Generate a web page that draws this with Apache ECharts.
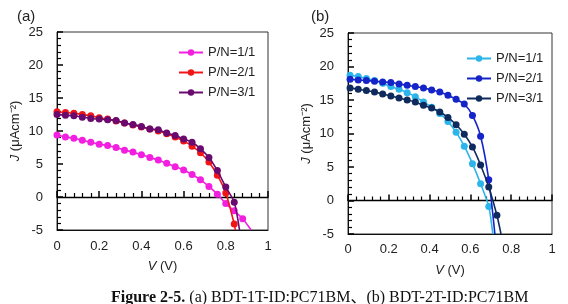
<!DOCTYPE html>
<html>
<head>
<meta charset="utf-8">
<script src="https://cdn.jsdelivr.net/npm/echarts@6/dist/echarts.min.js"></script>
<style>
  html, body { margin: 0; padding: 0; background: #fff; }
  #chart { width: 568px; height: 304px; }
</style>
</head>
<body>
<div id="chart"></div>
<script>
// panel (a): BDT-1T-ID:PC71BM
const voltA = [0, 0.04, 0.08, 0.12, 0.16, 0.2, 0.24, 0.28, 0.32, 0.36, 0.4, 0.44,
  0.48, 0.52, 0.56, 0.6, 0.64, 0.68, 0.72, 0.76, 0.8, 0.84, 0.88]
const pn11A = [9.4, 9.1, 8.9, 8.6, 8.3, 8.0, 7.8, 7.5, 7.1, 6.8, 6.4, 6.0,
  5.6, 5.1, 4.6, 4.1, 3.4, 2.6, 1.6, 0.4, -1.0, -2.1, -3.3]
const pn21A = [12.9, 12.8, 12.7, 12.5, 12.3, 12.0, 11.8, 11.5, 11.2, 10.9, 10.6, 10.3,
  10.0, 9.6, 9.1, 8.5, 7.7, 6.7, 5.3, 3.3, 0.6, -4.1]
const pn31A = [12.5, 12.4, 12.3, 12.1, 11.9, 11.8, 11.7, 11.6, 11.2, 11.0, 10.7, 10.3,
  10.2, 9.7, 9.3, 8.8, 8.3, 7.3, 6.0, 4.0, 1.5, -0.8]
// where each curve leaves the box at J = -5
const endA = [[0.92, -5], [0.845, -5], [0.865, -5]]

// panel (b): BDT-2T-ID:PC71BM
const voltB = [0.01, 0.05, 0.09, 0.13, 0.17, 0.21, 0.25, 0.29, 0.33, 0.37, 0.41, 0.45,
  0.49, 0.53, 0.57, 0.61, 0.65, 0.69, 0.73]
const pn11B = [18.7, 18.5, 18.2, 17.9, 17.5, 17.0, 16.6, 16.1, 15.5, 14.7, 13.9, 13.0,
  11.8, 10.2, 8.1, 5.5, 2.5, -0.9]
const pn21B = [18.1, 18.0, 17.9, 17.8, 17.7, 17.6, 17.4, 17.2, 17.0, 16.8, 16.5, 16.2,
  15.7, 15.1, 14.4, 12.7, 9.6, 3.1]
const pn31B = [16.8, 16.6, 16.4, 16.2, 15.9, 15.6, 15.3, 15.0, 14.7, 14.2, 13.8, 13.2,
  12.4, 11.3, 9.9, 8.0, 5.3, 2.0, -2.2]
const endB = [[0.71, -5], [0.72, -5], [0.75, -5]]

const seriesNames = ['P/N=1/1', 'P/N=2/1', 'P/N=3/1']
const colorsA = ['#f21fe0', '#f01616', '#6a0a6e']
const colorsB = ['#2bb5ea', '#1424c8', '#0f2b5e']
const xTicks = [0, 0.2, 0.4, 0.6, 0.8, 1]
const yTicks = [-5, 0, 5, 10, 15, 20, 25]

const FONT = "'Liberation Sans', Arial, sans-serif"
const grids = [
  { left: 57, right: 300, top: 32, bottom: 74 },
  { left: 348, right: 16, top: 33, bottom: 70 },
]

function makeX(gridIndex, labelMargin) {
  return [
    {
      type: 'value', gridIndex, min: 0, max: 1, interval: 0.2, position: 'bottom',
      axisLine: { show: true, onZero: false, lineStyle: { color: '#111', width: 1 } },
      axisTick: { show: false },
      splitLine: { show: false },
      axisLabel: {
        show: true, color: '#222', fontSize: 13, fontFamily: FONT, margin: labelMargin,
        formatter: (v) => xTicks.includes(Math.round(v * 10) / 10) ? String(Math.round(v * 10) / 10) : '',
      },
      name: '{i|V} (V)',
      nameLocation: 'middle',
      nameGap: 30,
      nameTextStyle: {
        color: '#222', fontSize: 13, fontFamily: FONT,
        rich: { i: { fontStyle: 'italic', fontSize: 13, fontFamily: FONT, color: '#222' } },
      },
    },
    {
      // the line at J = 0 with its upward ticks
      type: 'value', gridIndex, min: 0, max: 1, interval: 0.2, position: 'bottom',
      axisLine: { show: true, onZero: true, lineStyle: { color: '#000', width: 1.3 } },
      axisTick: { show: true, inside: true, length: 6, lineStyle: { color: '#000', width: 1.5 } },
      minorTick: { show: true, splitNumber: 5, length: 4, lineStyle: { color: '#000', width: 1.2 } },
      axisLabel: { show: false },
      splitLine: { show: false },
    },
  ]
}

function makeY(gridIndex) {
  return {
    type: 'value', gridIndex, min: -5, max: 25, interval: 5,
    axisLine: { show: true, onZero: false, lineStyle: { color: '#111' } },
    axisTick: { show: true, inside: true, length: 6, lineStyle: { color: '#000', width: 1.5 } },
    minorTick: { show: true, splitNumber: 5, length: 4, lineStyle: { color: '#000', width: 1.2 } },
    splitLine: { show: false },
    axisLabel: {
      show: true, color: '#222', fontSize: 13, fontFamily: FONT, margin: 14,
      formatter: (v) => yTicks.includes(v) ? String(v) : '',
    },
    name: '{i|J} (μAcm⁻²)',
    nameLocation: 'middle',
    nameRotate: 90,
    nameGap: 35,
    nameTextStyle: {
      color: '#222', fontSize: 13, fontFamily: FONT,
      rich: { i: { fontStyle: 'italic', fontSize: 13, fontFamily: FONT, color: '#222' } },
    },
  }
}

function makeSeries(panel, names, volt, lists, ends, colors) {
  return lists.map((vals, i) => {
    const data = vals.map((v, k) => [volt[k], v])
    data.push(ends[i])
    const last = data.length - 1
    return {
      name: names[i],
      type: 'line',
      xAxisIndex: panel * 2,
      yAxisIndex: panel,
      data,
      smooth: 0.25,
      symbol: 'circle',
      // no marker on the point where the curve leaves the box
      symbolSize: (val, p) => (p.dataIndex === last ? 0 : 7),
      color: colors[i],
      lineStyle: { width: 1.6, color: colors[i] },
      itemStyle: { color: colors[i] },
      z: 3 + i,
    }
  })
}

// the two panels share legend texts, so panel (b) names carry a trailing space
const namesB = seriesNames.map((n) => n + ' ')

const chart = echarts.init(document.getElementById('chart'))

chart.setOption({
  animation: false,
  backgroundColor: '#fff',
  grid: grids.map((g) => ({ ...g, show: true, borderColor: '#333', borderWidth: 1 })),
  xAxis: [...makeX(0, 10), ...makeX(1, 9)],
  yAxis: [makeY(0), makeY(1)],
  legend: [
    {
      orient: 'vertical', left: 173, top: 41,
      itemWidth: 24, itemHeight: 8, itemGap: 7,
      data: seriesNames,
      textStyle: { color: '#222', fontSize: 13, fontFamily: FONT },
    },
    {
      orient: 'vertical', left: 461, top: 47,
      itemWidth: 24, itemHeight: 8, itemGap: 7,
      data: namesB,
      textStyle: { color: '#222', fontSize: 13, fontFamily: FONT },
    },
  ],
  title: [
    { text: '(a)', left: 12, top: 4, textStyle: { fontSize: 15, fontWeight: 'normal', color: '#222', fontFamily: FONT } },
    { text: '(b)', left: 306, top: 4, textStyle: { fontSize: 15, fontWeight: 'normal', color: '#222', fontFamily: FONT } },
    {
      text: '{b|Figure 2-5.} (a) BDT-1T-ID:PC71BM、(b) BDT-2T-ID:PC71BM',
      left: 106, top: 285,
      textStyle: {
        fontSize: 16, fontWeight: 'normal', color: '#111',
        fontFamily: "'Liberation Serif', 'Times New Roman', 'Noto Sans CJK SC', serif",
        rich: {
          b: { fontWeight: 'bold', fontSize: 16, color: '#111', fontFamily: "'Liberation Serif', 'Times New Roman', serif" },
        },
      },
    },
  ],
  series: [
    ...makeSeries(0, seriesNames, voltA, [pn11A, pn21A, pn31A], endA, colorsA),
    ...makeSeries(1, namesB, voltB, [pn11B, pn21B, pn31B], endB, colorsB),
  ],
})
</script>
</body>
</html>
